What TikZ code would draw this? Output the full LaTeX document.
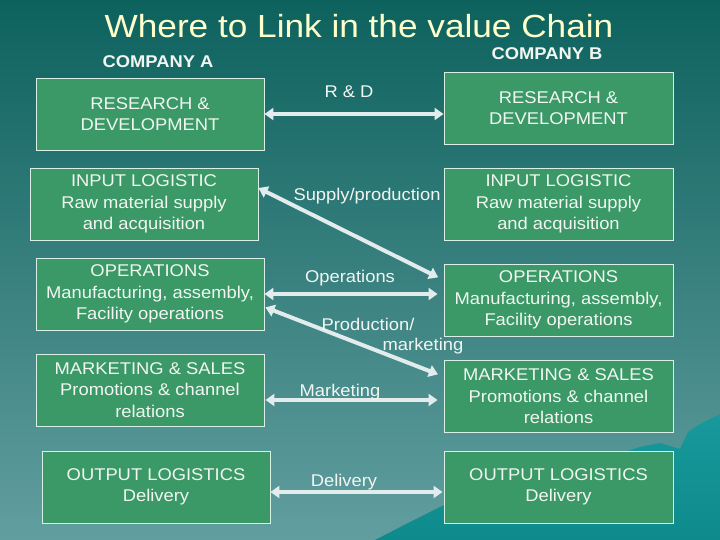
\documentclass[tikz,border=0pt]{standalone}
\usepackage{fontspec}
\setmainfont{Liberation Sans}[FakeStretch=1.08]
\newfontfamily\titlefont{Liberation Sans}[FakeStretch=1.1]
\usetikzlibrary{arrows.meta,calc}
\definecolor{bgtop}{HTML}{0D625E}
\definecolor{bgbot}{HTML}{629E9F}
\definecolor{boxgreen}{HTML}{3A9966}
\definecolor{boxline}{HTML}{D8F0E6}
\definecolor{boxtext}{HTML}{F2F6F2}
\definecolor{arrowcol}{HTML}{E2ECEC}
\definecolor{titlecol}{HTML}{FFFFCC}
\definecolor{mountain}{HTML}{18999B}
\definecolor{mountaindark}{HTML}{0E8A8C}
\tikzset{
  vbox/.style={draw=boxline, fill=boxgreen, line width=0.9pt, text=boxtext,
    align=center, inner sep=0pt, minimum width=228pt, minimum height=72pt,
    font=\fontsize{17}{21.5}\selectfont},
  lbl/.style={text=boxtext, anchor=base, inner sep=0pt, font=\fontsize{17}{21.5}\selectfont},
  link/.style={draw=arrowcol, line width=4pt,
    {Triangle[length=9pt,width=12pt]}-{Triangle[length=9pt,width=12pt]}},
  comp/.style={text=boxtext, anchor=base, inner sep=0pt, font=\fontsize{17}{19}\selectfont\bfseries}
}
\begin{document}
\begin{tikzpicture}[x=1pt,y=-1pt]
\useasboundingbox (0,0) rectangle (720,540);
\shade[top color=bgtop, bottom color=bgbot] (0,0) rectangle (720,540);
% mountain
\shade[top color=mountain, bottom color=mountaindark]
  (375,540) -- (410,522) -- (444,505) -- (600,460) -- (640,447) -- (660,443)
  -- (680,449) -- (688,432) -- (700,424) -- (712,418) -- (720,414) -- (720,540) -- cycle;
% title
\node[text=titlecol, anchor=base, inner sep=0pt, font=\titlefont\fontsize{32}{36}\selectfont] (title) at (359,38) {Where to Link in the value Chain};
\node[comp] (compA) at (158,68) {COMPANY A};
\node[comp] (compB) at (547,60) {COMPANY B};
% boxes
\node[vbox] (rdA) at (150,114) {RESEARCH \&\\DEVELOPMENT};
\node[vbox, minimum width=229pt] (rdB) at (558.5,108) {RESEARCH \&\\DEVELOPMENT};
\node[vbox] (inA) at (144,204) {INPUT LOGISTIC\\Raw material supply\\and acquisition};
\node[vbox, minimum width=229pt] (inB) at (558.5,204) {INPUT LOGISTIC\\Raw material supply\\and acquisition};
\node[vbox] (opA) at (150,294) {OPERATIONS\\Manufacturing, assembly,\\Facility operations};
\node[vbox, minimum width=229pt] (opB) at (558.5,300) {OPERATIONS\\Manufacturing, assembly,\\Facility operations};
\node[vbox] (mkA) at (150,390) {MARKETING \& SALES\\Promotions \& channel\\relations};
\node[vbox, minimum width=229pt] (mkB) at (558.5,396.5) {MARKETING \& SALES\\Promotions \& channel\\relations};
\node[vbox] (outA) at (156,487) {OUTPUT LOGISTICS\\Delivery};
\node[vbox, minimum width=229pt] (outB) at (558.5,487) {OUTPUT LOGISTICS\\Delivery};
% connectors
\draw[link] (rdA.east) -- (rdA.east -| rdB.west);
\draw[link, shorten >=6pt] ([yshift=16pt]inA.east) -- ([yshift=20pt]opB.west);
\draw[link, shorten >=6pt] (opA.east) -- (opA.east -| opB.west);
\draw[link, shorten <=1pt, shorten >=6pt] ([yshift=-13pt]opA.east) -- ([yshift=20pt]mkB.west);
\draw[link, shorten <=1pt, shorten >=6pt] ([yshift=-10pt]mkA.east) -- ([yshift=-10pt]mkA.east -| mkB.west);
\draw[link, shorten >=1pt] ([yshift=-5pt]outA.east) -- ([yshift=-5pt]outA.east -| outB.west);
% labels
\node[lbl] (lrd) at (349,98) {R \& D};
\node[lbl] (lsup) at (367,201) {Supply/production};
\node[lbl] (lops) at (350,282) {Operations};
\node[lbl] (lpm1) at (368,330) {Production/};
\node[lbl] (lpm2) at (423,350) {marketing};
\node[lbl] (lmkt) at (340,396) {Marketing};
\node[lbl] (ldel) at (344,486) {Delivery};
\end{tikzpicture}
\end{document}
